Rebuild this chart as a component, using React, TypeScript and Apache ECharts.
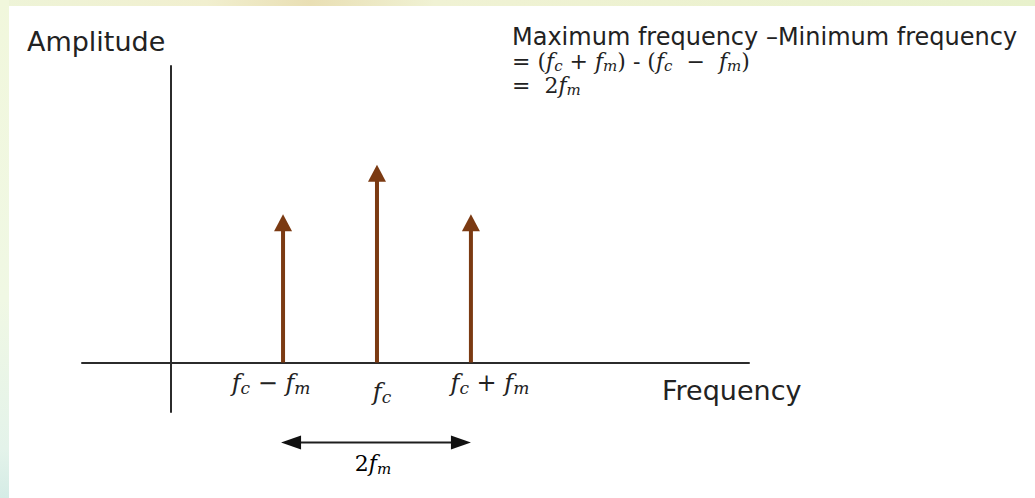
import React, { useEffect, useRef } from "react";
import * as echarts from "echarts";

// Spectrum of an AM signal: carrier plus two side frequencies
const fc = 2.2;
const fm = 1;
const lineFreqs = [fc - fm, fc, fc + fm];
const lineAmplitudes = [0.75, 1.0, 0.75];
const lineLabels = [
  "{f|f}{s|c}{op| − }{f|f}{s|m}{w24| }",
  "{gap| }\n{w10| }{f|f}{s|c}",
  "{w38| }{f|f}{s|c}{op| + }{f|f}{s|m}",
];
const bandSpan = [[fc - fm, fc + fm]];
const bandLabel = "{n|2}{f|f}{s|m}";
const noteLines = [
  "{h|Maximum frequency –Minimum frequency}",
  "{e|= (}{f|f}{s|c}{e| + }{f|f}{s|m}{e|) - (}{f|f}{s|c}{e|  −  }{f|f}{s|m}{e|)}",
  "{e|=  2}{f|f}{s|m}",
];

const ARROW = "#7b3a12";
const INK = "#222222";
const SERIF = "DejaVu Serif";
const SANS = "DejaVu Sans";

const mathRich = {
  f: { fontFamily: SERIF, fontStyle: "italic", fontSize: 24, lineHeight: 26, verticalAlign: "middle", color: INK },
  s: { fontFamily: SERIF, fontStyle: "italic", fontSize: 17, lineHeight: 12, verticalAlign: "bottom", color: INK },
  op: { fontFamily: SERIF, fontSize: 24, lineHeight: 26, verticalAlign: "middle", color: INK },
  n: { fontFamily: SERIF, fontSize: 22, lineHeight: 26, verticalAlign: "middle", color: INK },
  gap: { fontSize: 2, lineHeight: 9 },
  w10: { width: 10, fontSize: 2 },
  w24: { width: 24, fontSize: 2 },
  w38: { width: 38, fontSize: 2 },
};

const bandRich = {
  ...mathRich,
  f: { ...mathRich.f, fontSize: 22 },
  s: { ...mathRich.s, fontSize: 15 },
};

const noteRich = {
  h: { fontFamily: SANS, fontWeight: "normal", fontSize: 24, lineHeight: 24, verticalAlign: "middle", color: INK },
  e: { fontFamily: SERIF, fontWeight: "normal", fontSize: 22, lineHeight: 24, verticalAlign: "middle", color: INK },
  f: { fontFamily: SERIF, fontWeight: "normal", fontStyle: "italic", fontSize: 22, lineHeight: 24, verticalAlign: "middle", color: INK },
  s: { fontFamily: SERIF, fontWeight: "normal", fontStyle: "italic", fontSize: 15, lineHeight: 11, verticalAlign: "bottom", color: INK },
};

const nameRich = {
  g: { fontSize: 2, lineHeight: 14 },
  t: { fontFamily: SANS, fontSize: 27, lineHeight: 28, color: INK },
};

function labelFor(value: number) {
  let best = 0;
  lineFreqs.forEach((v, i) => {
    if (Math.abs(v - value) < Math.abs(lineFreqs[best] - value)) best = i;
  });
  return lineLabels[best];
}

export default function App() {
  const ref = useRef<HTMLDivElement>(null);

  useEffect(() => {
    const chart = echarts.init(ref.current!, null, { renderer: "svg" });
    chart.setOption({
      animation: false,
      backgroundColor: "#ffffff",
      title: {
        left: 512,
        top: 25,
        padding: 0,
        text: noteLines.join("\n"),
        textStyle: { fontWeight: "normal", rich: noteRich },
      },
      graphic: [
        {
          type: "rect",
          z: -10,
          shape: { x: 0, y: 0, width: 1035, height: 6 },
          style: {
            fill: new echarts.graphic.LinearGradient(0, 0, 1, 0, [
              { offset: 0, color: "#eef4d8" },
              { offset: 0.2, color: "#f1efcf" },
              { offset: 0.3, color: "#e9dfb4" },
              { offset: 0.42, color: "#f0f2d4" },
              { offset: 1, color: "#e8f1cc" },
            ]),
          },
        },
        {
          type: "rect",
          z: -10,
          shape: { x: 0, y: 0, width: 9, height: 498 },
          style: {
            fill: new echarts.graphic.LinearGradient(0, 0, 0, 1, [
              { offset: 0, color: "#f1f7dc" },
              { offset: 0.6, color: "#f0f8e4" },
              { offset: 0.9, color: "#e4f3ea" },
              { offset: 1, color: "#d5ece6" },
            ]),
          },
        },
      ],
      grid: {
        left: 82,
        right: 286,
        top: 66,
        bottom: 86,
        containLabel: false,
        outerBoundsMode: "none",
      },
      xAxis: {
        type: "value",
        min: -0.94,
        max: 6.16,
        splitLine: { show: false },
        axisTick: { show: false },
        axisLine: { show: true, onZero: true, lineStyle: { color: "#2b2b2b", width: 2 } },
        axisLabel: {
          show: true,
          customValues: lineFreqs,
          // labels are laid out from the grid's bottom edge, the line sits at amplitude 0
          margin: -42,
          formatter: (v: number) => labelFor(v),
          rich: mathRich,
        },
        name: "{g| }\n{t|Frequency}",
        nameLocation: "end",
        nameGap: -87,
        nameTextStyle: {
          align: "left",
          verticalAlign: "top",
          rich: nameRich,
        },
      },
      yAxis: {
        type: "value",
        min: -0.25,
        max: 1.5,
        splitLine: { show: false },
        axisTick: { show: false },
        axisLabel: { show: false },
        axisLine: { show: true, onZero: true, lineStyle: { color: "#2b2b2b", width: 2 } },
        name: "Amplitude",
        nameLocation: "end",
        nameGap: 25,
        nameTextStyle: {
          fontFamily: SANS,
          fontSize: 27,
          color: INK,
          align: "right",
          verticalAlign: "middle",
          padding: [0, 5, 0, 0],
        },
      },
      series: [
        {
          type: "custom",
          name: "spectral lines",
          data: lineFreqs.map((f, i) => [f, lineAmplitudes[i]]),
          renderItem: (_params: any, api: any) => {
            const x = api.value(0);
            const a = api.value(1);
            const base = api.coord([x, 0]);
            const tip = api.coord([x, a]);
            const headH = 17;
            const headW = 18;
            return {
              type: "group",
              children: [
                {
                  type: "line",
                  shape: { x1: base[0], y1: base[1], x2: tip[0], y2: tip[1] + headH - 1 },
                  style: { stroke: ARROW, lineWidth: 4 },
                },
                {
                  type: "polygon",
                  shape: {
                    points: [
                      [tip[0], tip[1]],
                      [tip[0] - headW / 2, tip[1] + headH],
                      [tip[0] + headW / 2, tip[1] + headH],
                    ],
                  },
                  style: { fill: ARROW },
                },
              ],
            };
          },
        },
        {
          type: "custom",
          name: "bandwidth",
          clip: false,
          data: bandSpan,
          renderItem: (_params: any, api: any) => {
            const left = api.coord([api.value(0), 0]);
            const right = api.coord([api.value(1), 0]);
            const y = left[1] + 80;
            const headL = 20;
            const headH = 14;
            const x1 = left[0] - 2;
            const x2 = right[0];
            return {
              type: "group",
              children: [
                {
                  type: "line",
                  shape: { x1: x1 + headL - 2, y1: y, x2: x2 - headL + 2, y2: y },
                  style: { stroke: "#1e1e1e", lineWidth: 2 },
                },
                {
                  type: "polygon",
                  shape: { points: [[x1, y], [x1 + headL, y - headH / 2], [x1 + headL, y + headH / 2]] },
                  style: { fill: "#111111" },
                },
                {
                  type: "polygon",
                  shape: { points: [[x2, y], [x2 - headL, y - headH / 2], [x2 - headL, y + headH / 2]] },
                  style: { fill: "#111111" },
                },
                {
                  type: "text",
                  x: (x1 + x2) / 2 - 3,
                  y: y + 21,
                  style: {
                    text: bandLabel,
                    rich: bandRich,
                    align: "center",
                    verticalAlign: "middle",
                  },
                },
              ],
            };
          },
        },
      ],
    });
    return () => chart.dispose();
  }, []);

  return (
    <div
      ref={ref}
      style={{ position: "absolute", left: 0, top: 0, width: 1035, height: 498 }}
    />
  );
}
